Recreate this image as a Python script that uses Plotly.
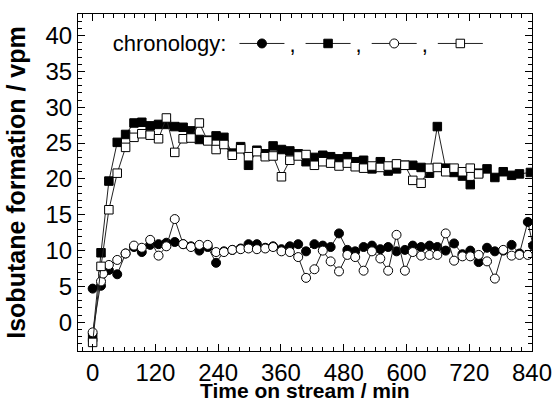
import plotly.graph_objects as go

# time on stream (min)
time = [0, 16, 31, 47, 63, 79, 94, 110, 126, 141, 157, 173, 188, 204, 220, 236, 251, 267,
        283, 298, 314, 330, 345, 361, 377, 393, 408, 424, 440, 455, 471, 487, 502, 518,
        534, 550, 565, 581, 597, 612, 628, 644, 659, 675, 691, 707, 722, 738, 754, 769,
        785, 801, 816, 832]
time_fc = time + [842]
time_fs = time[:-1] + [837]
time_oc = time[:2] + [20] + time[2:]
time_os = time[:48]

# isobutane formation (vpm)
filled_circle = [4.7, 5.1, 7.3, 6.7, 9.6, 10.5, 9.8, 10.8, 10.9, 11.1, 11.2, 10.9, 10.6, 10.0,
                 10.5, 8.3, 9.9, 10.1, 10.3, 10.9, 10.9, 10.4, 10.6, 10.2, 10.6, 10.9, 9.9,
                 10.9, 10.7, 10.5, 12.4, 10.1, 9.9, 10.5, 10.7, 10.2, 10.5, 9.9, 10.1, 10.7,
                 10.5, 10.7, 10.5, 10.0, 11.0, 9.5, 10.0, 8.4, 10.4, 9.9, 10.0, 10.8, 9.6,
                 14.0, 10.7]
filled_square = [-2.1, 9.7, 19.7, 25.1, 26.2, 27.8, 27.9, 27.4, 27.6, 27.6, 27.3, 27.2, 26.7,
                 25.5, 25.4, 26.0, 25.8, 23.6, 24.5, 21.9, 24.0, 23.5, 24.6, 24.1, 23.9, 23.5,
                 22.4, 23.0, 23.3, 23.1, 22.8, 23.1, 22.4, 22.6, 21.4, 22.4, 21.1, 21.4, 21.9,
                 21.9, 21.6, 20.8, 27.3, 21.5, 20.9, 20.4, 19.2, 20.8, 21.4, 20.2, 21.0, 20.5,
                 20.7, 20.9]
open_circle = [-1.4, 5.7, 6.8, 8.0, 8.7, 9.6, 10.7, 10.4, 11.5, 9.3, 10.6, 14.4, 10.9, 10.5,
               10.8, 10.8, 9.8, 9.8, 10.1, 10.2, 10.3, 10.2, 10.3, 10.5, 9.9, 9.8, 9.1, 6.2,
               7.4, 10.0, 8.5, 7.1, 9.4, 9.1, 7.2, 9.9, 8.9, 7.2, 12.2, 7.2, 9.8, 9.3, 9.4,
               9.4, 12.4, 8.6, 9.2, 9.2, 9.4, 8.5, 6.1, 10.1, 9.3, 9.4, 9.4]
open_square = [-2.8, 7.8, 15.7, 20.8, 24.4, 25.8, 26.3, 26.1, 25.6, 28.5, 23.7, 25.6, 25.7,
               27.8, 25.3, 24.1, 24.8, 23.3, 24.2, 23.1, 23.8, 23.1, 23.2, 20.3, 22.6, 23.2,
               23.4, 21.9, 22.4, 22.2, 21.8, 22.2, 21.7, 21.5, 21.8, 21.6, 21.8, 22.1, 21.9,
               19.8, 19.4, 21.5, 21.6, 21.0, 21.5, 21.0, 21.5, 20.7]

x_ticks = [0, 120, 240, 360, 480, 600, 720, 840]
y_ticks = [0, 5, 10, 15, 20, 25, 30, 35, 40]

FONT = "Arial, 'Liberation Sans', sans-serif"
LINE = dict(color="#222222", width=1)

series = [
    (time_fc, filled_circle, "circle", "black", 9, ","),
    (time_fs, filled_square, "square", "black", 8.5, ","),
    (time_oc, open_circle, "circle", "white", 9, ","),
    (time_os, open_square, "square", "white", 8.5, " "),
]

fig = go.Figure()
for xs, ys, sym, fill, size, name in series:
    fig.add_trace(go.Scatter(
        x=xs, y=ys, mode="lines+markers", name=name,
        line=LINE,
        marker=dict(symbol=sym, size=size, color=fill, line=dict(color="black", width=1)),
        cliponaxis=True,
    ))

fig.update_layout(
    width=553, height=399,
    margin=dict(l=78, r=21, t=14, b=48),
    paper_bgcolor="white", plot_bgcolor="white",
    font=dict(family=FONT, color="black", size=22),
    showlegend=True,
    legend=dict(
        orientation="h", x=0.072, y=0.912, xanchor="left", yanchor="middle",
        title=dict(text="chronology:", side="left", font=dict(size=22)),
        font=dict(size=22), itemwidth=45, bgcolor="rgba(0,0,0,0)",
        traceorder="normal", itemclick=False,
    ),
    annotations=[dict(
        text="<b>Time on stream / min</b>", xref="paper", yref="paper",
        x=0.5, y=-0.117, xanchor="center", yanchor="middle", showarrow=False,
        font=dict(size=21, family=FONT, color="black"),
    )],
)

fig.update_xaxes(
    range=[-28, 840], tickvals=x_ticks, ticktext=[str(v) for v in x_ticks],
    showgrid=False, zeroline=False, automargin=False,
    showline=True, linecolor="black", linewidth=1, mirror="allticks",
    ticks="inside", ticklen=7, tickcolor="black", tickwidth=1,
    minor=dict(dtick=20, tick0=0, ticks="inside", ticklen=4, tickcolor="black", showgrid=False),
    tickfont=dict(size=24),
)
fig.update_yaxes(
    range=[-4, 43], tickvals=y_ticks, ticktext=[str(v) for v in y_ticks],
    showgrid=False, zeroline=False, automargin=False,
    showline=True, linecolor="black", linewidth=1, mirror="allticks",
    ticks="inside", ticklen=7, tickcolor="black", tickwidth=1,
    minor=dict(dtick=1, tick0=0, ticks="inside", ticklen=4, tickcolor="black", showgrid=False),
    tickfont=dict(size=24),
    title=dict(text="<b>Isobutane formation / vpm</b>", font=dict(size=25), standoff=12),
)

fig.write_html("out.html", config={"displayModeBar": False},
               post_script="document.body.style.margin='0';")
